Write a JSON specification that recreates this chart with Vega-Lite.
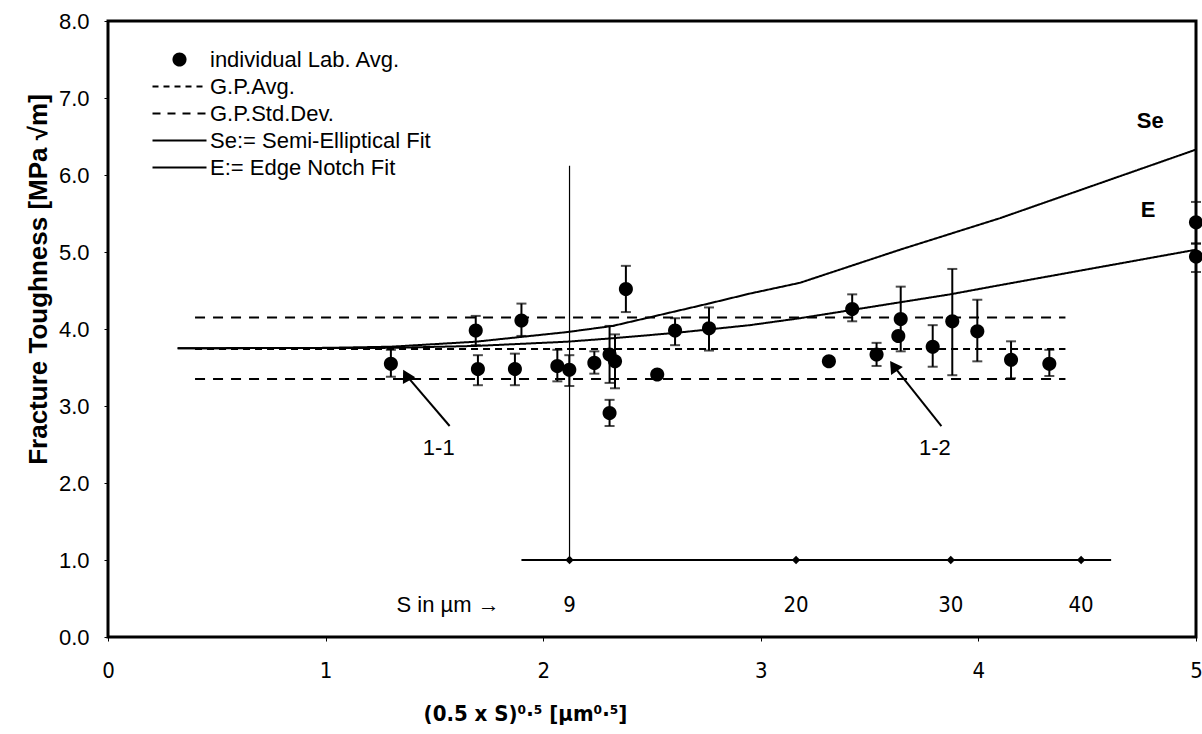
{
  "$schema": "https://vega.github.io/schema/vega-lite/v6.json",
  "width": 1088,
  "height": 616,
  "autosize": {"type": "none"},
  "padding": {"left": 108, "top": 21, "right": 6, "bottom": 97},
  "background": "white",
  "config": {
    "view": {"stroke": "black", "strokeWidth": 3},
    "font": "Liberation Sans",
    "axis": {"grid": false, "domain": false, "tickColor": "black", "labelColor": "black", "titleColor": "black"}
  },
  "datasets": {
    "points": [
      {"series": "individual Lab. Avg.", "x": 1.30, "y": 3.55, "lo": 3.38, "hi": 3.73},
      {"series": "individual Lab. Avg.", "x": 1.69, "y": 3.98, "lo": 3.79, "hi": 4.17},
      {"series": "individual Lab. Avg.", "x": 1.70, "y": 3.48, "lo": 3.27, "hi": 3.66},
      {"series": "individual Lab. Avg.", "x": 1.87, "y": 3.48, "lo": 3.27, "hi": 3.68},
      {"series": "individual Lab. Avg.", "x": 1.90, "y": 4.11, "lo": 3.91, "hi": 4.33},
      {"series": "individual Lab. Avg.", "x": 2.065, "y": 3.52, "lo": 3.32, "hi": 3.73},
      {"series": "individual Lab. Avg.", "x": 2.12, "y": 3.47, "lo": 3.26, "hi": 3.66},
      {"series": "individual Lab. Avg.", "x": 2.235, "y": 3.56, "lo": 3.42, "hi": 3.71},
      {"series": "individual Lab. Avg.", "x": 2.305, "y": 3.67, "lo": 3.30, "hi": 4.04},
      {"series": "individual Lab. Avg.", "x": 2.33, "y": 3.58, "lo": 3.23, "hi": 3.93},
      {"series": "individual Lab. Avg.", "x": 2.305, "y": 2.91, "lo": 2.74, "hi": 3.08},
      {"series": "individual Lab. Avg.", "x": 2.38, "y": 4.52, "lo": 4.22, "hi": 4.82},
      {"series": "individual Lab. Avg.", "x": 2.524, "y": 3.41, "lo": null, "hi": null},
      {"series": "individual Lab. Avg.", "x": 2.606, "y": 3.98, "lo": 3.79, "hi": 4.14},
      {"series": "individual Lab. Avg.", "x": 2.762, "y": 4.01, "lo": 3.72, "hi": 4.28},
      {"series": "individual Lab. Avg.", "x": 3.313, "y": 3.58, "lo": null, "hi": null},
      {"series": "individual Lab. Avg.", "x": 3.42, "y": 4.26, "lo": 4.10, "hi": 4.45},
      {"series": "individual Lab. Avg.", "x": 3.532, "y": 3.67, "lo": 3.52, "hi": 3.82},
      {"series": "individual Lab. Avg.", "x": 3.643, "y": 4.13, "lo": 3.71, "hi": 4.55},
      {"series": "individual Lab. Avg.", "x": 3.632, "y": 3.91, "lo": null, "hi": null},
      {"series": "individual Lab. Avg.", "x": 3.79, "y": 3.77, "lo": 3.51, "hi": 4.05},
      {"series": "individual Lab. Avg.", "x": 3.88, "y": 4.10, "lo": 3.40, "hi": 4.78},
      {"series": "individual Lab. Avg.", "x": 3.995, "y": 3.97, "lo": 3.58, "hi": 4.38},
      {"series": "individual Lab. Avg.", "x": 4.15, "y": 3.60, "lo": 3.36, "hi": 3.84},
      {"series": "individual Lab. Avg.", "x": 4.326, "y": 3.55, "lo": 3.39, "hi": 3.73},
      {"series": "individual Lab. Avg.", "x": 5.0, "y": 5.385, "lo": 5.11, "hi": 5.65},
      {"series": "individual Lab. Avg.", "x": 5.0, "y": 4.94, "lo": 4.74, "hi": 5.11}
    ],
    "lines": [
      {"series": "G.P.Avg.", "part": "avg", "x": 0.40, "y": 3.74},
      {"series": "G.P.Avg.", "part": "avg", "x": 4.40, "y": 3.74},
      {"series": "G.P.Std.Dev.", "part": "sdu", "x": 0.40, "y": 4.15},
      {"series": "G.P.Std.Dev.", "part": "sdu", "x": 4.40, "y": 4.15},
      {"series": "G.P.Std.Dev.", "part": "sdl", "x": 0.40, "y": 3.35},
      {"series": "G.P.Std.Dev.", "part": "sdl", "x": 4.40, "y": 3.35},
      {"series": "Se:= Semi-Elliptical Fit", "part": "se", "x": 0.32, "y": 3.75},
      {"series": "Se:= Semi-Elliptical Fit", "part": "se", "x": 1.0, "y": 3.755},
      {"series": "Se:= Semi-Elliptical Fit", "part": "se", "x": 1.3, "y": 3.77},
      {"series": "Se:= Semi-Elliptical Fit", "part": "se", "x": 1.69, "y": 3.835},
      {"series": "Se:= Semi-Elliptical Fit", "part": "se", "x": 2.11, "y": 3.96},
      {"series": "Se:= Semi-Elliptical Fit", "part": "se", "x": 2.32, "y": 4.04},
      {"series": "Se:= Semi-Elliptical Fit", "part": "se", "x": 2.76, "y": 4.33},
      {"series": "Se:= Semi-Elliptical Fit", "part": "se", "x": 2.95, "y": 4.46},
      {"series": "Se:= Semi-Elliptical Fit", "part": "se", "x": 3.18, "y": 4.60},
      {"series": "Se:= Semi-Elliptical Fit", "part": "se", "x": 3.64, "y": 5.03},
      {"series": "Se:= Semi-Elliptical Fit", "part": "se", "x": 4.10, "y": 5.44},
      {"series": "Se:= Semi-Elliptical Fit", "part": "se", "x": 5.0, "y": 6.33},
      {"series": "E:= Edge Notch Fit", "part": "e", "x": 0.32, "y": 3.75},
      {"series": "E:= Edge Notch Fit", "part": "e", "x": 1.3, "y": 3.755},
      {"series": "E:= Edge Notch Fit", "part": "e", "x": 1.69, "y": 3.78},
      {"series": "E:= Edge Notch Fit", "part": "e", "x": 2.11, "y": 3.835},
      {"series": "E:= Edge Notch Fit", "part": "e", "x": 2.32, "y": 3.88},
      {"series": "E:= Edge Notch Fit", "part": "e", "x": 2.61, "y": 3.95},
      {"series": "E:= Edge Notch Fit", "part": "e", "x": 2.95, "y": 4.05},
      {"series": "E:= Edge Notch Fit", "part": "e", "x": 3.18, "y": 4.14},
      {"series": "E:= Edge Notch Fit", "part": "e", "x": 3.87, "y": 4.45},
      {"series": "E:= Edge Notch Fit", "part": "e", "x": 4.10, "y": 4.57},
      {"series": "E:= Edge Notch Fit", "part": "e", "x": 5.0, "y": 5.03}
    ],
    "sscale": [
      {"x": 2.121, "y": 1.0, "label": "9", "ly": 0.42},
      {"x": 3.162, "y": 1.0, "label": "20", "ly": 0.42},
      {"x": 3.873, "y": 1.0, "label": "30", "ly": 0.42},
      {"x": 4.472, "y": 1.0, "label": "40", "ly": 0.42}
    ],
    "notes": [
      {"label": "1-1", "x": 1.52, "y": 2.45},
      {"label": "1-2", "x": 3.80, "y": 2.45}
    ],
    "curvelabels": [
      {"label": "Se", "x": 4.79, "y": 6.70},
      {"label": "E", "x": 4.78, "y": 5.55}
    ],
    "arrows": [
      {"id": "1-1", "x": 1.57, "x2": 1.37, "y": 2.74, "y2": 3.40},
      {"id": "1-2", "x": 3.83, "x2": 3.61, "y": 2.74, "y2": 3.52}
    ]
  },
  "layer": [
    {
      "data": {"name": "lines"},
      "mark": {"type": "line", "color": "black", "strokeWidth": 2},
      "encoding": {
        "x": {
          "field": "x", "type": "quantitative",
          "scale": {"domain": [0, 5], "nice": false},
          "axis": {
            "values": [0, 1, 2, 3, 4, 5], "format": "d", "labelFlush": false,
            "labelFont": "Liberation Sans Narrow, DejaVu Sans Condensed, sans-serif",
            "labelFontSize": 22, "labelPadding": 19, "tickSize": 4,
            "title": "(0.5 x S)⁰·⁵  [µm⁰·⁵]",
            "titleFont": "Liberation Sans Narrow, DejaVu Sans Condensed, sans-serif",
            "titleFontSize": 22, "titleFontWeight": "bold",
            "titleX": 417, "titleY": 76, "titleBaseline": "middle"
          }
        },
        "y": {
          "field": "y", "type": "quantitative",
          "scale": {"domain": [0, 8], "nice": false},
          "axis": {
            "values": [0, 1, 2, 3, 4, 5, 6, 7, 8], "format": ".1f",
            "labelFontSize": 22, "labelPadding": 15, "tickSize": 4,
            "title": "Fracture Toughness  [MPa √m]",
            "titleFontSize": 26, "titleFontWeight": "bold",
            "titleX": -57, "titleY": 258
          }
        },
        "detail": {"field": "part"},
        "strokeDash": {
          "field": "series", "type": "nominal",
          "scale": {
            "domain": ["G.P.Avg.", "G.P.Std.Dev.", "Se:= Semi-Elliptical Fit", "E:= Edge Notch Fit"],
            "range": [[7, 5], [10, 8], [1, 0], [1, 0]]
          },
          "legend": null
        }
      }
    },
    {
      "data": {"name": "points"},
      "transform": [{"filter": "isValid(datum.lo)"}],
      "mark": {"type": "rule", "color": "black", "strokeWidth": 2},
      "encoding": {
        "x": {"field": "x", "type": "quantitative"},
        "y": {"field": "lo", "type": "quantitative"},
        "y2": {"field": "hi"}
      }
    },
    {
      "data": {"name": "points"},
      "transform": [{"filter": "isValid(datum.lo)"}],
      "mark": {"type": "tick", "orient": "horizontal", "color": "black", "size": 10, "thickness": 2},
      "encoding": {
        "x": {"field": "x", "type": "quantitative"},
        "y": {"field": "lo", "type": "quantitative"}
      }
    },
    {
      "data": {"name": "points"},
      "transform": [{"filter": "isValid(datum.hi)"}],
      "mark": {"type": "tick", "orient": "horizontal", "color": "black", "size": 10, "thickness": 2},
      "encoding": {
        "x": {"field": "x", "type": "quantitative"},
        "y": {"field": "hi", "type": "quantitative"}
      }
    },
    {
      "data": {"name": "points"},
      "mark": {"type": "point", "filled": true, "color": "black", "opacity": 1, "size": 729},
      "encoding": {
        "x": {"field": "x", "type": "quantitative"},
        "y": {"field": "y", "type": "quantitative"},
        "shape": {
          "field": "series", "type": "nominal",
          "scale": {
            "domain": ["individual Lab. Avg.", "G.P.Avg.", "G.P.Std.Dev.", "Se:= Semi-Elliptical Fit", "E:= Edge Notch Fit"],
            "range": [
              "M-0.52,0A0.52,0.52,0,1,0,0.52,0A0.52,0.52,0,1,0,-0.52,0Z",
              "M-2,-0.075H-1.556V0.075H-2Z M-1.185,-0.075H-0.741V0.075H-1.185Z M-0.37,-0.075H0.074V0.075H-0.37Z M0.444,-0.075H0.889V0.075H0.444Z M1.259,-0.075H1.704V0.075H1.259Z",
              "M-2,-0.075H-1.407V0.075H-2Z M-0.889,-0.075H-0.296V0.075H-0.889Z M0.222,-0.075H0.815V0.075H0.222Z M1.333,-0.075H1.926V0.075H1.333Z",
              "M-2,-0.075H2V0.075H-2Z",
              "M-2,-0.075H2V0.075H-2Z"
            ]
          },
          "legend": {
            "title": null, "orient": "none", "legendX": 58, "legendY": 25, "padding": 0,
            "labelFontSize": 22, "labelLimit": 500, "labelOffset": 17, "rowPadding": 2,
            "symbolSize": 729, "symbolStrokeWidth": 0, "symbolFillColor": "black"
          }
        }
      }
    },
    {
      "data": {"values": [{"x": 2.121, "y": 1.0, "y2": 6.12}]},
      "mark": {"type": "rule", "color": "black", "strokeWidth": 1.2},
      "encoding": {
        "x": {"field": "x", "type": "quantitative"},
        "y": {"field": "y", "type": "quantitative"},
        "y2": {"field": "y2"}
      }
    },
    {
      "data": {"values": [{"x": 1.90, "x2": 4.61, "y": 1.0}]},
      "mark": {"type": "rule", "color": "black", "strokeWidth": 2},
      "encoding": {
        "x": {"field": "x", "type": "quantitative"},
        "x2": {"field": "x2"},
        "y": {"field": "y", "type": "quantitative"}
      }
    },
    {
      "data": {"name": "sscale"},
      "mark": {"type": "point", "shape": "diamond", "filled": true, "color": "black", "opacity": 1, "size": 70},
      "encoding": {
        "x": {"field": "x", "type": "quantitative"},
        "y": {"field": "y", "type": "quantitative"}
      }
    },
    {
      "data": {"name": "sscale"},
      "mark": {"type": "text", "color": "black", "fontSize": 22, "font": "Liberation Sans Narrow, DejaVu Sans Condensed, sans-serif", "baseline": "middle"},
      "encoding": {
        "x": {"field": "x", "type": "quantitative"},
        "y": {"field": "ly", "type": "quantitative"},
        "text": {"field": "label"}
      }
    },
    {
      "data": {"values": [{"label": "S in µm →", "x": 1.80, "y": 0.42}]},
      "mark": {"type": "text", "color": "black", "fontSize": 22, "baseline": "middle", "align": "right"},
      "encoding": {
        "x": {"field": "x", "type": "quantitative"},
        "y": {"field": "y", "type": "quantitative"},
        "text": {"field": "label"}
      }
    },
    {
      "data": {"name": "notes"},
      "mark": {"type": "text", "color": "black", "fontSize": 22, "baseline": "middle"},
      "encoding": {
        "x": {"field": "x", "type": "quantitative"},
        "y": {"field": "y", "type": "quantitative"},
        "text": {"field": "label"}
      }
    },
    {
      "data": {"name": "curvelabels"},
      "mark": {"type": "text", "color": "black", "fontSize": 22, "fontWeight": "bold", "baseline": "middle"},
      "encoding": {
        "x": {"field": "x", "type": "quantitative"},
        "y": {"field": "y", "type": "quantitative"},
        "text": {"field": "label"}
      }
    },
    {
      "data": {"name": "arrows"},
      "mark": {"type": "rule", "color": "black", "strokeWidth": 2},
      "encoding": {
        "x": {"field": "x", "type": "quantitative"},
        "y": {"field": "y", "type": "quantitative"},
        "x2": {"field": "x2"},
        "y2": {"field": "y2"}
      }
    },
    {
      "data": {"name": "arrows"},
      "transform": [{"filter": "datum.id === '1-1'"}],
      "mark": {"type": "point", "shape": "triangle-up", "filled": true, "color": "black", "opacity": 1, "size": 200, "angle": 331},
      "encoding": {
        "x": {"field": "x2", "type": "quantitative"},
        "y": {"field": "y2", "type": "quantitative"}
      }
    },
    {
      "data": {"name": "arrows"},
      "transform": [{"filter": "datum.id === '1-2'"}],
      "mark": {"type": "point", "shape": "triangle-up", "filled": true, "color": "black", "opacity": 1, "size": 200, "angle": 326},
      "encoding": {
        "x": {"field": "x2", "type": "quantitative"},
        "y": {"field": "y2", "type": "quantitative"}
      }
    }
  ]
}
